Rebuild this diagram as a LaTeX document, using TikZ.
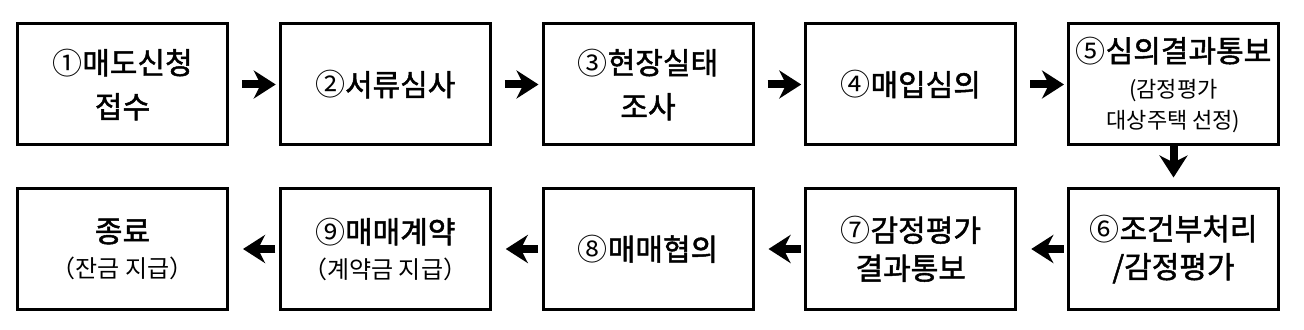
\documentclass[tikz,border=0pt]{standalone}
\usepackage{fontspec}
\setmainfont{Noto Sans CJK KR}
\newfontfamily\flowfont{Noto Sans CJK KR}[FakeBold=1.6]
\newfontfamily\flowlight{Noto Sans CJK KR}
\usetikzlibrary{arrows.meta}
\definecolor{FlowInk}{gray}{0.0}
\tikzset{
    flow/diagram/.style={
        x=0.5pt, y=-0.5pt,
        font=\flowfont\fontsize{15}{19}\selectfont,
        text=FlowInk,
        every node/.style={inner sep=0pt, outer sep=0pt}
    },
    flow/stepbox/.style={
        draw=FlowInk, line width=1.5pt, align=center,
        minimum width=105pt, minimum height=60.5pt
    },
    flow/next/.style={
        draw=FlowInk, line width=4pt,
        -{Stealth[length=11pt, width=14pt, inset=3.5pt]}
    }
}
\newcommand\flownote{\flowlight\fontsize{11}{15}\selectfont}
\newcommand\flowno[1]{{\flowlight #1}}

\begin{document}
\begin{tikzpicture}[flow/diagram]
    \useasboundingbox (0,0) rectangle (1304,330);
    \node[flow/stepbox] (s1) at (122.5,84.5) {\flowno{①}매도신청\\[3pt]접수};
    \node[flow/stepbox] (s2) at (385.25,84.5) {\flowno{②}서류심사};
    \node[flow/stepbox] (s3) at (648,84.5) {\flowno{③}현장실태\\[3pt]조사};
    \node[flow/stepbox] (s4) at (910.75,84.5) {\flowno{④}매입심의};
    \node[flow/stepbox] (s5) at (1173.5,84.5)
        {\flowno{⑤}심의결과통보\\[-1.5pt]{\flownote (감정평가}\\[-3.5pt]{\flownote 대상주택 선정)}};
    \node[flow/stepbox] (s6) at (1173.5,249) {\flowno{⑥}조건부처리\\/감정평가};
    \node[flow/stepbox] (s7) at (910.75,249) {\flowno{⑦}감정평가\\결과통보};
    \node[flow/stepbox] (s8) at (648,249) {\flowno{⑧}매매협의};
    \node[flow/stepbox] (s9) at (385.25,249)
        {\flowno{⑨}매매계약\\[-1.5pt]{\flownote\fontsize{12}{15}\selectfont （계약금 지급）}};
    \node[flow/stepbox] (s10) at (122.5,249)
        {종료\\[-1.5pt]{\flownote\fontsize{12}{15}\selectfont （잔금 지급）}};
    \draw[flow/next, shorten <=7.25pt, shorten >=2.25pt] (s1) -- (s2);
    \draw[flow/next, shorten <=7.25pt, shorten >=2.25pt] (s2) -- (s3);
    \draw[flow/next, shorten <=7.25pt, shorten >=2.25pt] (s3) -- (s4);
    \draw[flow/next, shorten <=7.25pt, shorten >=2.25pt] (s4) -- (s5);
    \draw[flow/next, shorten >=5.5pt] (s5) -- (s6);
    \draw[flow/next, shorten <=2.5pt, shorten >=7.75pt] (s6) -- (s7);
    \draw[flow/next, shorten <=2.5pt, shorten >=7.75pt] (s7) -- (s8);
    \draw[flow/next, shorten <=2.5pt, shorten >=7.75pt] (s8) -- (s9);
    \draw[flow/next, shorten <=2.5pt, shorten >=7.75pt] (s9) -- (s10);
\end{tikzpicture}
\end{document}
